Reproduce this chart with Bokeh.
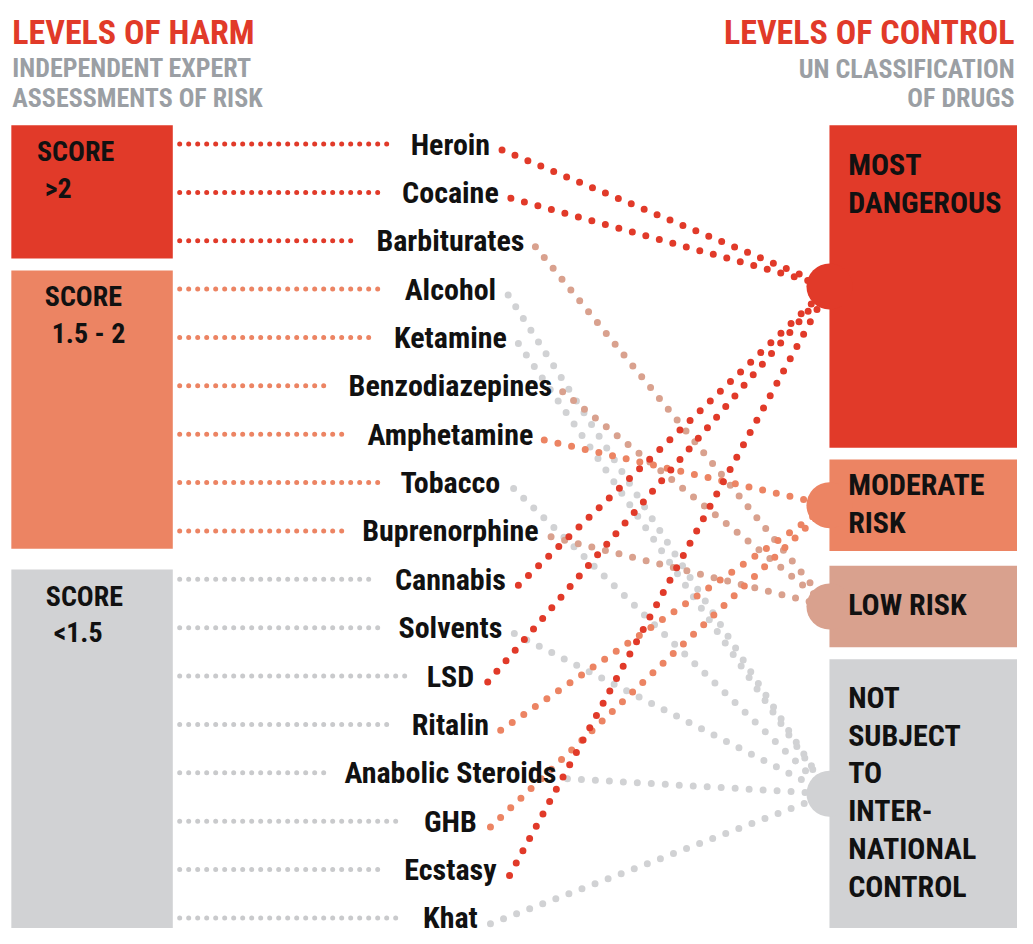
from bokeh.plotting import figure
from bokeh.models import Range1d, ColumnDataSource
from bokeh.core.properties import value
from bokeh.embed import file_html
from bokeh.resources import INLINE

# ---------------- data ----------------
drugs = ["Heroin", "Cocaine", "Barbiturates", "Alcohol", "Ketamine",
         "Benzodiazepines", "Amphetamine", "Tobacco", "Buprenorphine",
         "Cannabis", "Solvents", "LSD", "Ritalin", "Anabolic Steroids",
         "GHB", "Ecstasy", "Khat"]
# harm group: 0 = score >2, 1 = score 1.5-2, 2 = score <1.5
harm_group = [0, 0, 0, 1, 1, 1, 1, 1, 1, 2, 2, 2, 2, 2, 2, 2, 2]
# UN control class: 0 most dangerous, 1 moderate, 2 low, 3 not controlled
control_class = [0, 0, 2, 3, 3, 2, 1, 3, 2, 0, 3, 0, 1, 3, 1, 0, 3]
harm_titles = ["SCORE", "SCORE", "SCORE"]
harm_values = [">2", "1.5 - 2", "<1.5"]
control_labels = [["MOST", "DANGEROUS"], ["MODERATE", "RISK"], ["LOW RISK"],
                  ["NOT", "SUBJECT", "TO", "INTER-", "NATIONAL", "CONTROL"]]
title_left = "LEVELS OF HARM"
subtitle_left = ["INDEPENDENT EXPERT", "ASSESSMENTS OF RISK"]
title_right = "LEVELS OF CONTROL"
subtitle_right = ["UN CLASSIFICATION", "OF DRUGS"]

# ---------------- layout & style ----------------
FONT = "Roboto Condensed, Roboto"
WF = 0.83   # width factor of the font relative to Arial Bold
RED = "#e13a29"
ORANGE = "#ec8463"
BEIGE = "#d9a18e"
GRAY = "#d1d2d4"
GRAY_DOT = "#c9cacc"
SUBGRAY = "#9b9fa4"
INK = "#111111"
harm_colors = [RED, ORANGE, GRAY]
lead_colors = [RED, ORANGE, GRAY_DOT]
control_colors = [RED, ORANGE, BEIGE, GRAY]

ROW0, ROWSTEP = 146, 49.2
LABEL_X = 457
LABEL_PX = 30
n = len(drugs)
row_y = [ROW0 + i * ROWSTEP for i in range(n)]

# approximate advance widths (bold) to find label edges
AW = dict(zip("ABCDEFGHIJKLMNOPQRSTUVWXYZ",
              [722, 722, 722, 722, 667, 611, 778, 722, 278, 556, 722, 611, 833,
               722, 778, 667, 778, 722, 667, 611, 722, 667, 944, 667, 667, 611]))
AW.update(zip("abcdefghijklmnopqrstuvwxyz",
              [556, 611, 556, 611, 556, 333, 611, 611, 278, 278, 556, 278, 889,
               611, 611, 611, 611, 389, 556, 333, 611, 556, 778, 556, 556, 500]))
AW[" "] = 278
AW["-"] = 333


def text_w(s, px):
    return sum(AW.get(c, 556) for c in s) / 1000 * WF * px


HBOX_L, HBOX_R = 11, 175
harm_pad_top = [19, 19, 10]
harm_txt_x = [37, 45, 46]
harm_val_x = [45, 52, 54]
BOX_L, BOX_R = 842, 1040
ctrl_top = [127, 467, 575, 670]
ctrl_bot = [455, 560, 658, 944]
ctrl_valign = ["top", "center", "center", "center"]
BUB_SIZE = 46
CTRL_TXT_X = 861
CTRL_LH = 38.5
LEAD_X0 = 182

p = figure(width=1017, height=928, x_range=Range1d(0, 1033), y_range=Range1d(944, 0),
           output_backend="svg", toolbar_location=None, min_border=0,
           x_axis_type=None, y_axis_type=None)
p.grid.visible = False
p.outline_line_color = None
p.background_fill_color = "white"
p.border_fill_color = "white"

# ---- left harm boxes ----
hl, hr, ht, hb, hc = [], [], [], [], []
for g in range(3):
    rows = [i for i in range(n) if harm_group[i] == g]
    top = row_y[rows[0]] - harm_pad_top[g]
    bot = row_y[rows[-1]] + 18 if g < 2 else 960
    hl.append(HBOX_L); hr.append(HBOX_R); ht.append(top); hb.append(bot); hc.append(harm_colors[g])
p.quad(left=hl, right=hr, top=ht, bottom=hb, fill_color=hc, line_color=None)

# ---- right control boxes ----
p.quad(left=[BOX_L] * 4, right=[BOX_R] * 4, top=ctrl_top,
       bottom=[b if k < 3 else 960 for k, b in enumerate(ctrl_bot)],
       fill_color=control_colors, line_color=None)
bub_y = [(t + b) / 2 for t, b in zip(ctrl_top, ctrl_bot)]

# ---- lead lines (harm box -> label) ----
lxs, lys, lcs = [], [], []
for i, d in enumerate(drugs):
    w = text_w(d, LABEL_PX)
    lxs.append([LEAD_X0, LABEL_X - w / 2 - 20])
    lys.append([row_y[i], row_y[i]])
    lcs.append(lead_colors[harm_group[i]])
p.multi_line(xs=lxs, ys=lys, line_color=lcs, line_width=5, line_dash="0 9", line_cap="round")

# ---- connection lines (label -> control class) ----
for c in [3, 2, 1, 0]:
    xs, ys = [], []
    for i, d in enumerate(drugs):
        if control_class[i] != c:
            continue
        w = text_w(d, LABEL_PX)
        xs.append([LABEL_X + w / 2 + 13, BOX_L])
        ys.append([row_y[i] + 6, bub_y[c]])
    p.multi_line(xs=xs, ys=ys, line_color=control_colors[c], line_width=7,
                 line_dash="0 14", line_cap="round")

# ---- bubbles ----
p.scatter(x=[BOX_L] * 4, y=bub_y, size=BUB_SIZE, marker="circle",
          fill_color=control_colors, line_color=None)


def txt(xs, ys, ts, size, color, align="left"):
    src = ColumnDataSource(dict(x=xs, y=ys, t=ts))
    p.text(x="x", y="y", text="t", source=src, text_font=value(FONT),
           text_font_size=value(size), text_font_style="bold", text_color=color,
           text_align=align, text_baseline="middle")


# drug labels (y = visual centre of capitals)
txt([LABEL_X] * n, row_y, drugs, "%dpx" % LABEL_PX, INK, "center")

# harm box texts
txt([harm_txt_x[g] for g in range(3)], [ht[g] + 27 for g in range(3)], harm_titles, "28px", INK)
txt([harm_val_x[g] for g in range(3)], [ht[g] + 64 for g in range(3)], harm_values, "28px", INK)

# control box texts
cx, cy, ct = [], [], []
for k, lines in enumerate(control_labels):
    m = len(lines)
    if ctrl_valign[k] == "top":
        first = ctrl_top[k] + 40
    else:
        first = bub_y[k] - (m - 1) * CTRL_LH / 2 - 2
    for j, s in enumerate(lines):
        cx.append(CTRL_TXT_X); cy.append(first + j * CTRL_LH); ct.append(s)
txt(cx, cy, ct, "30px", INK)

# headers
txt([12], [32.5], [title_left], "34px", RED)
txt([12, 12], [69, 99], subtitle_left, "26px", SUBGRAY)
txt([1030], [32.5], [title_right], "34px", RED, "right")
txt([1030, 1030], [70, 99], subtitle_right, "26px", SUBGRAY, "right")

open("out.html", "w").write(file_html(p, INLINE))
